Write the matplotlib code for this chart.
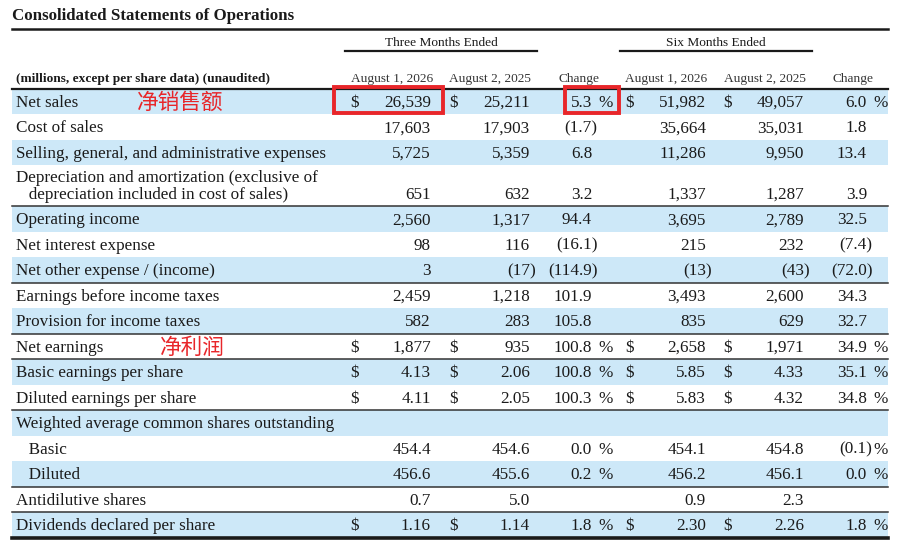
import matplotlib
matplotlib.use("Agg")
import matplotlib.pyplot as plt
from matplotlib.patches import Rectangle

# table data
labels = [
    "Net sales",
    "Cost of sales",
    "Selling, general, and administrative expenses",
    "Depreciation and amortization (exclusive of\n   depreciation included in cost of sales)",
    "Operating income",
    "Net interest expense",
    "Net other expense / (income)",
    "Earnings before income taxes",
    "Provision for income taxes",
    "Net earnings",
    "Basic earnings per share",
    "Diluted earnings per share",
    "Weighted average common shares outstanding",
    "   Basic",
    "   Diluted",
    "Antidilutive shares",
    "Dividends declared per share",
]
three_2026 = ["26,539", "17,603", "5,725", "651", "2,560", "98", "3", "2,459", "582",
              "1,877", "4.13", "4.11", "", "454.4", "456.6", "0.7", "1.16"]
three_2025 = ["25,211", "17,903", "5,359", "632", "1,317", "116", "(17)", "1,218", "283",
              "935", "2.06", "2.05", "", "454.6", "455.6", "5.0", "1.14"]
three_chg = ["5.3", "(1.7)", "6.8", "3.2", "94.4", "(16.1)", "(114.9)", "101.9", "105.8",
             "100.8", "100.8", "100.3", "", "0.0", "0.2", "", "1.8"]
six_2026 = ["51,982", "35,664", "11,286", "1,337", "3,695", "215", "(13)", "3,493", "835",
            "2,658", "5.85", "5.83", "", "454.1", "456.2", "0.9", "2.30"]
six_2025 = ["49,057", "35,031", "9,950", "1,287", "2,789", "232", "(43)", "2,600", "629",
            "1,971", "4.33", "4.32", "", "454.8", "456.1", "2.3", "2.26"]
six_chg = ["6.0", "1.8", "13.4", "3.9", "32.5", "(7.4)", "(72.0)", "34.3", "32.7",
           "34.9", "35.1", "34.8", "", "(0.1)", "0.0", "", "1.8"]
dollar_rows = [0, 9, 10, 11, 16]
pct_rows = [0, 9, 10, 11, 13, 14, 16]
rule_after = [3, 6, 8, 9, 11, 14, 15]  # dark line under these rows
notes = {0: "净销售额", 9: "净利润"}
note_x = {0: 137, 9: 160}

col_heads = ["August 1, 2026", "August 2, 2025", "Change",
             "August 1, 2026", "August 2, 2025", "Change"]

serif = "Liberation Serif"
ink = "#1a1a1a"
band = "#cde8f8"
red = "#e8262a"

fig = plt.figure(figsize=(9, 5.5), dpi=100)
ax = fig.add_axes([0, 0, 1, 1])
ax.set_xlim(0, 900)
ax.set_ylim(550, 0)
ax.axis("off")

L, R = 12, 888
fs = 12.3
hfs = 9.6
base = 5.5  # baseline offset below row middle

# title + header
ax.text(L, 20, "Consolidated Statements of Operations", fontsize=12.2, fontweight="bold",
        family=serif, va="baseline", color=ink)
ax.plot([L, R], [29, 29], color=ink, lw=1.8)
ax.text(441, 46, "Three Months Ended", fontsize=hfs, family=serif, ha="center", va="baseline", color=ink)
ax.plot([345, 537], [51, 51], color=ink, lw=1.6)
ax.text(716, 46, "Six Months Ended", fontsize=hfs, family=serif, ha="center", va="baseline", color=ink)
ax.plot([620, 812], [51, 51], color=ink, lw=1.6)
ax.text(16, 82, "(millions, except per share data) (unaudited)", fontsize=hfs, fontweight="bold",
        family=serif, va="baseline", color=ink)
for cx, h in zip([392, 490, 579, 666, 765, 853], col_heads):
    ax.text(cx, 82, h, fontsize=hfs, family=serif, ha="center", va="baseline", color="#333333")

# row geometry
top = 88.5
rh = 25.5
heights = [rh] * len(labels)
heights[3] = 41

num_right = [431, 530, 592, 706, 804, 867]
dollar_x = {0: 350, 1: 449, 3: 625, 4: 723}
pct_right = {2: 613, 5: 888}


def put_num(x, y, s):
    # closing parenthesis hangs past the column edge
    if s.endswith(")"):
        x += 5.5
    ax.text(x, y, s, fontsize=fs, family=serif, ha="right", va="baseline", color=ink)


y = top
for i, lab in enumerate(labels):
    h = heights[i]
    if i % 2 == 0:
        ax.add_patch(Rectangle((L, y), R - L, h, color=band, lw=0, zorder=0))
    ymid = y + h / 2
    lines = lab.split("\n")
    if len(lines) > 1:
        yval = y + h - 12.5 + base
        ax.text(16, y + 11 + base, lines[0], fontsize=fs, family=serif, va="baseline", color=ink)
        ax.text(16, yval, lines[1], fontsize=fs, family=serif, va="baseline", color=ink)
    else:
        yval = ymid + base
        ax.text(16, yval, lab, fontsize=fs, family=serif, va="baseline", color=ink)
    vals = [three_2026[i], three_2025[i], three_chg[i], six_2026[i], six_2025[i], six_chg[i]]
    for j, v in enumerate(vals):
        if v:
            put_num(num_right[j], yval, v)
        if i in dollar_rows and j in dollar_x:
            ax.text(dollar_x[j], yval, "$", fontsize=fs, family=serif, va="baseline", color=ink)
        if i in pct_rows and j in pct_right:
            ax.text(pct_right[j], yval, "%", fontsize=fs, family=serif, ha="right", va="baseline", color=ink)
    if i in notes:
        ax.text(note_x[i], ymid + 1.5, notes[i], fontsize=15.6, family=["Noto Sans CJK SC", "DejaVu Sans"],
                va="center", color=red)
    y += h
    if i in rule_after:
        ax.plot([L, R], [y, y], color="#333333", lw=1.1)

ax.plot([L, R], [top, top], color=ink, lw=1.6)
ax.plot([L, R], [y + 0.5, y + 0.5], color=ink, lw=2.6)

# red highlight boxes on net sales
ax.add_patch(Rectangle((334, top - 2), 109, 26.5, fill=False, ec=red, lw=2.8, zorder=5))
ax.add_patch(Rectangle((565, top - 2), 54, 26.5, fill=False, ec=red, lw=2.8, zorder=5))

fig.savefig("out.png", dpi=100)
